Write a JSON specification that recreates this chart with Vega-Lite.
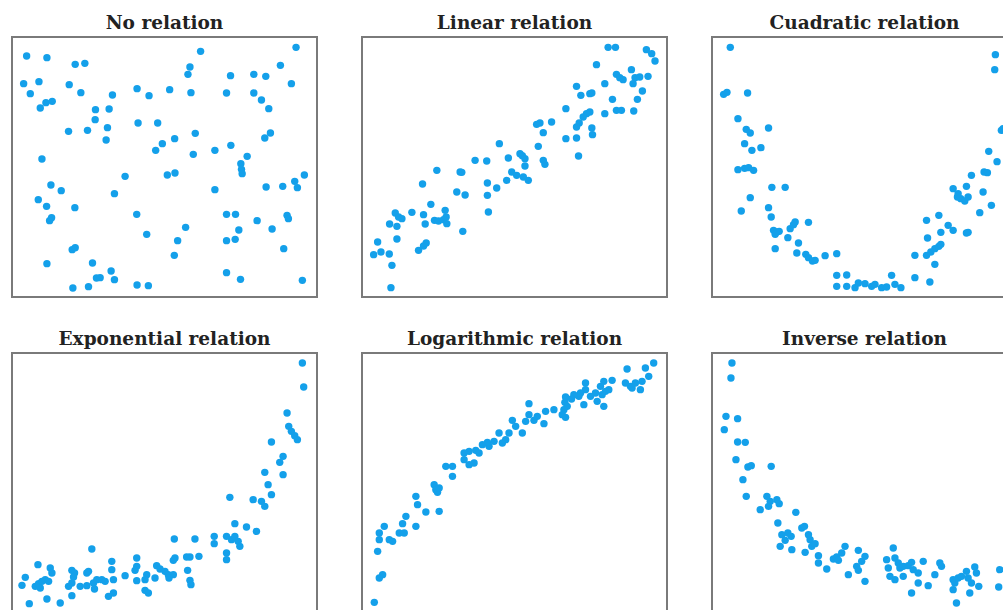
{
  "$schema": "https://vega.github.io/schema/vega-lite/v6.json",
  "padding": {"left": 11, "top": 12, "right": 5, "bottom": 5},
  "background": "white",
  "config": {
    "view": {"stroke": "#7a7a7a", "strokeWidth": 2},
    "axis": {"disable": true},
    "title": {"font": "DejaVu Serif", "fontWeight": "bold", "fontSize": 18.5, "color": "#222222", "anchor": "middle", "offset": 5},
    "point": {"filled": true, "color": "#14a0ea", "size": 55, "opacity": 1}
  },
  "datasets": {
    "none": [
      {"x":62,"y":157},{"x":123,"y":162},{"x":208,"y":182},{"x":237,"y":179},{"x":585,"y":143},{"x":872,"y":131},{"x":825,"y":185},{"x":553,"y":190},{"x":547,"y":212},{"x":675,"y":216},{"x":745,"y":212},{"x":781,"y":218},{"x":858,"y":240},{"x":53,"y":240},{"x":99,"y":234},{"x":190,"y":243},{"x":73,"y":270},{"x":225,"y":267},{"x":320,"y":274},{"x":394,"y":255},{"x":430,"y":276},{"x":492,"y":258},{"x":556,"y":267},{"x":663,"y":268},{"x":745,"y":268},{"x":768,"y":289},{"x":790,"y":315},{"x":103,"y":313},{"x":120,"y":297},{"x":139,"y":293},{"x":269,"y":318},{"x":310,"y":316},{"x":268,"y":348},{"x":397,"y":358},{"x":456,"y":358},{"x":188,"y":383},{"x":245,"y":380},{"x":305,"y":372},{"x":301,"y":409},{"x":569,"y":389},{"x":507,"y":405},{"x":470,"y":420},{"x":450,"y":440},{"x":563,"y":452},{"x":628,"y":440},{"x":676,"y":425},{"x":778,"y":403},{"x":795,"y":388},{"x":108,"y":466},{"x":725,"y":458},{"x":706,"y":480},{"x":708,"y":497},{"x":710,"y":510},{"x":358,"y":518},{"x":485,"y":514},{"x":508,"y":508},{"x":897,"y":514},{"x":868,"y":533},{"x":876,"y":552},{"x":782,"y":550},{"x":832,"y":548},{"x":628,"y":558},{"x":135,"y":544},{"x":166,"y":561},{"x":326,"y":570},{"x":97,"y":588},{"x":122,"y":608},{"x":207,"y":612},{"x":137,"y":642},{"x":131,"y":651},{"x":393,"y":632},{"x":663,"y":632},{"x":690,"y":632},{"x":845,"y":635},{"x":849,"y":645},{"x":755,"y":651},{"x":800,"y":676},{"x":540,"y":671},{"x":700,"y":679},{"x":423,"y":692},{"x":516,"y":711},{"x":663,"y":711},{"x":689,"y":707},{"x":199,"y":738},{"x":208,"y":732},{"x":835,"y":735},{"x":506,"y":755},{"x":123,"y":780},{"x":260,"y":778},{"x":316,"y":802},{"x":272,"y":823},{"x":283,"y":822},{"x":326,"y":828},{"x":248,"y":849},{"x":201,"y":853},{"x":394,"y":844},{"x":428,"y":846},{"x":663,"y":807},{"x":705,"y":827},{"x":891,"y":830}
    ],
    "linear": [
      {"x":755,"y":131},{"x":777,"y":131},{"x":870,"y":138},{"x":886,"y":150},{"x":896,"y":172},{"x":720,"y":183},{"x":825,"y":198},{"x":780,"y":212},{"x":790,"y":222},{"x":800,"y":228},{"x":836,"y":222},{"x":850,"y":220},{"x":875,"y":218},{"x":745,"y":240},{"x":660,"y":248},{"x":673,"y":275},{"x":700,"y":270},{"x":706,"y":268},{"x":830,"y":240},{"x":858,"y":262},{"x":843,"y":287},{"x":768,"y":287},{"x":628,"y":315},{"x":700,"y":325},{"x":690,"y":330},{"x":680,"y":340},{"x":668,"y":358},{"x":660,"y":370},{"x":745,"y":330},{"x":780,"y":320},{"x":795,"y":320},{"x":832,"y":322},{"x":540,"y":362},{"x":550,"y":358},{"x":585,"y":355},{"x":560,"y":387},{"x":628,"y":405},{"x":660,"y":403},{"x":706,"y":373},{"x":708,"y":393},{"x":428,"y":420},{"x":545,"y":428},{"x":666,"y":457},{"x":490,"y":450},{"x":497,"y":456},{"x":505,"y":465},{"x":355,"y":470},{"x":390,"y":472},{"x":455,"y":463},{"x":560,"y":470},{"x":565,"y":482},{"x":240,"y":500},{"x":310,"y":505},{"x":315,"y":506},{"x":505,"y":487},{"x":465,"y":505},{"x":480,"y":515},{"x":500,"y":520},{"x":515,"y":530},{"x":450,"y":530},{"x":392,"y":538},{"x":420,"y":553},{"x":197,"y":541},{"x":300,"y":565},{"x":325,"y":574},{"x":392,"y":575},{"x":222,"y":602},{"x":165,"y":626},{"x":115,"y":628},{"x":125,"y":640},{"x":135,"y":645},{"x":200,"y":633},{"x":395,"y":625},{"x":98,"y":661},{"x":120,"y":668},{"x":205,"y":661},{"x":233,"y":650},{"x":245,"y":652},{"x":260,"y":648},{"x":268,"y":640},{"x":270,"y":660},{"x":265,"y":620},{"x":318,"y":683},{"x":120,"y":706},{"x":62,"y":715},{"x":185,"y":740},{"x":200,"y":727},{"x":208,"y":718},{"x":50,"y":753},{"x":72,"y":745},{"x":97,"y":751},{"x":105,"y":785},{"x":102,"y":852}
    ],
    "quad": [
      {"x":85,"y":131},{"x":882,"y":153},{"x":880,"y":198},{"x":65,"y":272},{"x":75,"y":266},{"x":137,"y":268},{"x":108,"y":345},{"x":133,"y":377},{"x":145,"y":388},{"x":200,"y":373},{"x":128,"y":420},{"x":150,"y":440},{"x":177,"y":432},{"x":108,"y":498},{"x":128,"y":494},{"x":140,"y":492},{"x":155,"y":500},{"x":862,"y":443},{"x":887,"y":474},{"x":900,"y":380},{"x":905,"y":375},{"x":810,"y":515},{"x":848,"y":505},{"x":858,"y":507},{"x":210,"y":551},{"x":250,"y":551},{"x":145,"y":582},{"x":118,"y":622},{"x":200,"y":612},{"x":208,"y":640},{"x":215,"y":680},{"x":225,"y":685},{"x":232,"y":683},{"x":220,"y":692},{"x":258,"y":702},{"x":265,"y":675},{"x":275,"y":663},{"x":280,"y":655},{"x":320,"y":656},{"x":220,"y":735},{"x":290,"y":718},{"x":285,"y":748},{"x":312,"y":752},{"x":320,"y":762},{"x":332,"y":772},{"x":340,"y":770},{"x":370,"y":756},{"x":405,"y":750},{"x":405,"y":815},{"x":405,"y":848},{"x":435,"y":814},{"x":435,"y":848},{"x":460,"y":852},{"x":470,"y":838},{"x":490,"y":840},{"x":510,"y":848},{"x":520,"y":842},{"x":540,"y":852},{"x":555,"y":850},{"x":570,"y":815},{"x":580,"y":842},{"x":598,"y":852},{"x":640,"y":822},{"x":640,"y":755},{"x":675,"y":650},{"x":678,"y":703},{"x":675,"y":755},{"x":688,"y":745},{"x":700,"y":735},{"x":712,"y":728},{"x":718,"y":722},{"x":700,"y":782},{"x":685,"y":835},{"x":712,"y":635},{"x":740,"y":665},{"x":718,"y":686},{"x":755,"y":680},{"x":755,"y":555},{"x":768,"y":580},{"x":778,"y":585},{"x":795,"y":548},{"x":800,"y":580},{"x":790,"y":592},{"x":770,"y":570},{"x":845,"y":565},{"x":835,"y":627},{"x":870,"y":605},{"x":795,"y":688},{"x":800,"y":686}
    ],
    "expo": [
      {"x":893,"y":130},{"x":897,"y":202},{"x":847,"y":280},{"x":852,"y":320},{"x":860,"y":335},{"x":870,"y":348},{"x":878,"y":360},{"x":800,"y":367},{"x":835,"y":410},{"x":825,"y":428},{"x":835,"y":465},{"x":780,"y":458},{"x":790,"y":495},{"x":800,"y":525},{"x":745,"y":540},{"x":770,"y":545},{"x":780,"y":560},{"x":675,"y":533},{"x":690,"y":612},{"x":725,"y":622},{"x":755,"y":635},{"x":665,"y":650},{"x":680,"y":660},{"x":690,"y":650},{"x":700,"y":665},{"x":705,"y":680},{"x":628,"y":650},{"x":628,"y":672},{"x":665,"y":700},{"x":665,"y":720},{"x":570,"y":658},{"x":508,"y":658},{"x":582,"y":710},{"x":545,"y":712},{"x":555,"y":712},{"x":510,"y":715},{"x":505,"y":722},{"x":260,"y":688},{"x":98,"y":735},{"x":135,"y":745},{"x":140,"y":760},{"x":200,"y":752},{"x":208,"y":760},{"x":245,"y":760},{"x":250,"y":755},{"x":205,"y":772},{"x":320,"y":725},{"x":320,"y":750},{"x":395,"y":715},{"x":395,"y":740},{"x":390,"y":752},{"x":455,"y":738},{"x":465,"y":748},{"x":480,"y":755},{"x":490,"y":765},{"x":505,"y":765},{"x":492,"y":775},{"x":548,"y":752},{"x":555,"y":782},{"x":558,"y":795},{"x":425,"y":765},{"x":420,"y":780},{"x":420,"y":812},{"x":430,"y":820},{"x":450,"y":775},{"x":360,"y":768},{"x":395,"y":783},{"x":325,"y":780},{"x":60,"y":773},{"x":50,"y":797},{"x":90,"y":800},{"x":100,"y":792},{"x":110,"y":785},{"x":120,"y":780},{"x":130,"y":785},{"x":105,"y":805},{"x":190,"y":800},{"x":200,"y":790},{"x":225,"y":800},{"x":245,"y":798},{"x":265,"y":790},{"x":275,"y":780},{"x":290,"y":780},{"x":300,"y":785},{"x":268,"y":808},{"x":325,"y":820},{"x":310,"y":830},{"x":200,"y":828},{"x":125,"y":838},{"x":165,"y":850},{"x":72,"y":852}
    ],
    "log": [
      {"x":895,"y":130},{"x":815,"y":148},{"x":870,"y":145},{"x":880,"y":170},{"x":860,"y":185},{"x":840,"y":190},{"x":825,"y":200},{"x":810,"y":190},{"x":855,"y":210},{"x":830,"y":205},{"x":770,"y":182},{"x":745,"y":185},{"x":735,"y":200},{"x":750,"y":215},{"x":760,"y":210},{"x":740,"y":225},{"x":720,"y":220},{"x":745,"y":260},{"x":725,"y":245},{"x":705,"y":230},{"x":690,"y":190},{"x":690,"y":210},{"x":675,"y":220},{"x":670,"y":230},{"x":685,"y":255},{"x":655,"y":225},{"x":648,"y":238},{"x":630,"y":232},{"x":628,"y":248},{"x":635,"y":260},{"x":625,"y":270},{"x":620,"y":285},{"x":630,"y":293},{"x":595,"y":270},{"x":570,"y":275},{"x":520,"y":252},{"x":520,"y":285},{"x":535,"y":302},{"x":545,"y":290},{"x":565,"y":312},{"x":510,"y":305},{"x":500,"y":340},{"x":480,"y":320},{"x":470,"y":302},{"x":460,"y":340},{"x":450,"y":360},{"x":430,"y":340},{"x":440,"y":370},{"x":415,"y":365},{"x":400,"y":380},{"x":395,"y":368},{"x":380,"y":375},{"x":360,"y":392},{"x":340,"y":395},{"x":325,"y":400},{"x":325,"y":420},{"x":340,"y":435},{"x":355,"y":430},{"x":370,"y":400},{"x":290,"y":440},{"x":290,"y":470},{"x":270,"y":440},{"x":235,"y":495},{"x":240,"y":510},{"x":245,"y":518},{"x":250,"y":505},{"x":250,"y":575},{"x":180,"y":530},{"x":185,"y":555},{"x":210,"y":577},{"x":150,"y":590},{"x":140,"y":612},{"x":130,"y":640},{"x":145,"y":640},{"x":180,"y":620},{"x":110,"y":665},{"x":100,"y":660},{"x":85,"y":620},{"x":70,"y":640},{"x":70,"y":660},{"x":65,"y":695},{"x":70,"y":775},{"x":80,"y":765},{"x":55,"y":848}
    ],
    "inverse": [
      {"x":90,"y":130},{"x":87,"y":175},{"x":72,"y":290},{"x":107,"y":297},{"x":67,"y":330},{"x":107,"y":367},{"x":130,"y":368},{"x":102,"y":420},{"x":138,"y":442},{"x":148,"y":438},{"x":208,"y":440},{"x":123,"y":480},{"x":133,"y":530},{"x":195,"y":530},{"x":205,"y":545},{"x":225,"y":540},{"x":232,"y":552},{"x":200,"y":560},{"x":175,"y":570},{"x":282,"y":578},{"x":228,"y":610},{"x":240,"y":645},{"x":258,"y":640},{"x":268,"y":650},{"x":235,"y":680},{"x":250,"y":662},{"x":270,"y":690},{"x":300,"y":625},{"x":308,"y":620},{"x":320,"y":645},{"x":310,"y":698},{"x":325,"y":660},{"x":330,"y":680},{"x":340,"y":672},{"x":350,"y":708},{"x":350,"y":730},{"x":375,"y":748},{"x":395,"y":718},{"x":405,"y":712},{"x":420,"y":700},{"x":430,"y":680},{"x":410,"y":722},{"x":470,"y":692},{"x":490,"y":710},{"x":480,"y":725},{"x":465,"y":740},{"x":470,"y":752},{"x":440,"y":765},{"x":490,"y":785},{"x":555,"y":720},{"x":575,"y":685},{"x":580,"y":715},{"x":590,"y":730},{"x":595,"y":745},{"x":605,"y":740},{"x":620,"y":738},{"x":630,"y":728},{"x":560,"y":745},{"x":565,"y":770},{"x":580,"y":780},{"x":605,"y":770},{"x":635,"y":750},{"x":650,"y":760},{"x":665,"y":725},{"x":650,"y":790},{"x":630,"y":820},{"x":680,"y":798},{"x":715,"y":730},{"x":720,"y":740},{"x":700,"y":765},{"x":755,"y":780},{"x":760,"y":790},{"x":770,"y":775},{"x":780,"y":770},{"x":795,"y":755},{"x":800,"y":775},{"x":810,"y":790},{"x":820,"y":742},{"x":825,"y":760},{"x":832,"y":800},{"x":805,"y":820},{"x":755,"y":810},{"x":765,"y":850},{"x":895,"y":750},{"x":892,"y":802}
    ]
  },
  "columns": 3,
  "spacing": {"row": 30, "column": 43},
  "concat": [
    {"title": "No relation", "width": 305, "height": 260, "data": {"name": "none"}, "mark": "point",
     "encoding": {"x": {"field": "x", "type": "quantitative", "scale": {"domain": [18, 935], "nice": false, "zero": false}},
                  "y": {"field": "y", "type": "quantitative", "scale": {"domain": [100, 880], "nice": false, "zero": false, "reverse": true}}}},
    {"title": "Linear relation", "width": 305, "height": 260, "data": {"name": "linear"}, "mark": "point",
     "encoding": {"x": {"field": "x", "type": "quantitative", "scale": {"domain": [15, 932], "nice": false, "zero": false}},
                  "y": {"field": "y", "type": "quantitative", "scale": {"domain": [100, 880], "nice": false, "zero": false, "reverse": true}}}},
    {"title": "Cuadratic relation", "width": 305, "height": 260, "data": {"name": "quad"}, "mark": "point",
     "encoding": {"x": {"field": "x", "type": "quantitative", "scale": {"domain": [30, 947], "nice": false, "zero": false}},
                  "y": {"field": "y", "type": "quantitative", "scale": {"domain": [100, 880], "nice": false, "zero": false, "reverse": true}}}},
    {"title": "Exponential relation", "width": 305, "height": 260, "data": {"name": "expo"}, "mark": "point",
     "encoding": {"x": {"field": "x", "type": "quantitative", "scale": {"domain": [20, 937], "nice": false, "zero": false}},
                  "y": {"field": "y", "type": "quantitative", "scale": {"domain": [100, 880], "nice": false, "zero": false, "reverse": true}}}},
    {"title": "Logarithmic relation", "width": 305, "height": 260, "data": {"name": "log"}, "mark": "point",
     "encoding": {"x": {"field": "x", "type": "quantitative", "scale": {"domain": [18, 935], "nice": false, "zero": false}},
                  "y": {"field": "y", "type": "quantitative", "scale": {"domain": [100, 880], "nice": false, "zero": false, "reverse": true}}}},
    {"title": "Inverse relation", "width": 305, "height": 260, "data": {"name": "inverse"}, "mark": "point",
     "encoding": {"x": {"field": "x", "type": "quantitative", "scale": {"domain": [30, 947], "nice": false, "zero": false}},
                  "y": {"field": "y", "type": "quantitative", "scale": {"domain": [100, 880], "nice": false, "zero": false, "reverse": true}}}}
  ]
}
